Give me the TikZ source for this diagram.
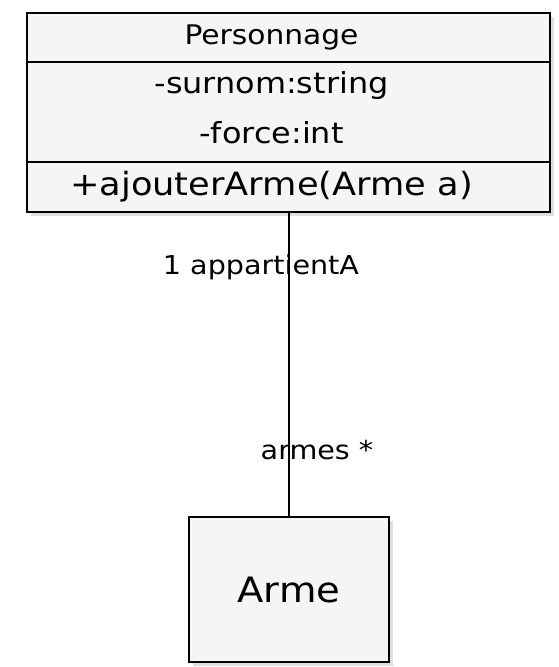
\documentclass[tikz,border=0pt]{standalone}
\usepackage{fontspec}
\setmainfont{DejaVu Sans}[FakeStretch=1.1]
\usetikzlibrary{positioning,shadows}
\newcommand\leftish[1]{\hspace*{-17pt}#1\hspace*{17pt}}
\tikzset{
  classpart/.style = {
    draw, fill=gray!8, inner sep=0pt, outer sep=0pt, line width=2pt,
    minimum width=523pt
  },
  classshadow/.style = {
    drop shadow={opacity=0.25, shadow xshift=4pt, shadow yshift=-4pt}
  },
  rolelabel/.style = {font=\fontsize{26}{30}\selectfont}
}
\tikzset{x=1pt,y=1pt}

\begin{document}
\begin{tikzpicture}[line width=1.6pt]
  \useasboundingbox (0,0) rectangle (558,-667);
  \node (head) at (288.5,-37.5) [classpart, classshadow, minimum height=49pt,
    font=\fontsize{27}{31}\selectfont] {\leftish{\raisebox{5pt}{Personnage}}};
  \node (attrs) [classpart, classshadow, below=0pt of head, minimum height=100pt,
    font=\fontsize{29}{34}\selectfont] {\leftish{\raisebox{7pt}{\begin{tabular}{@{}c@{}}-surnom:string\\[16pt]-force:int\end{tabular}}}};
  \node (meths) [classpart, classshadow, below=0pt of attrs, minimum height=50pt,
    font=\fontsize{32}{36}\selectfont] {\leftish{+ajouterArme(Arme a)}};
  \node (arme) at (289,-589.5) [classpart, classshadow, minimum width=200pt, minimum height=145pt,
    font=\fontsize{35}{40}\selectfont] {Arme};
  \draw (meths.south -| arme.north) -- (arme.north)
    node[rolelabel, pos=0.18, xshift=-28pt] {1 appartientA}
    node[rolelabel, pos=0.78, xshift=28pt] {armes *};
\end{tikzpicture}
\end{document}
